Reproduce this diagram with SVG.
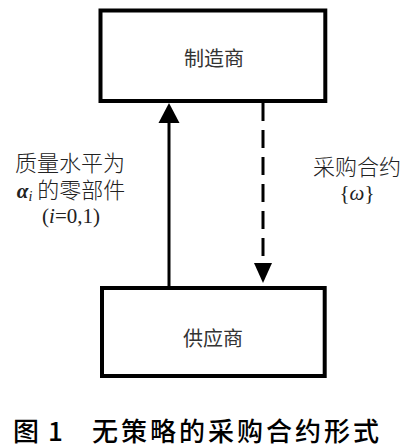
<svg xmlns="http://www.w3.org/2000/svg" width="407" height="447" viewBox="0 0 407 447">
<style>
.box{fill:#fff;stroke:#000;stroke-width:4;stroke-linejoin:miter}
.lbl{font-family:"Noto Sans CJK SC","Liberation Sans",sans-serif;font-size:20px;fill:#333;text-anchor:middle}
.side{font-family:"Liberation Serif","Noto Sans CJK SC",serif;font-size:21px;fill:#222;text-anchor:middle}
.cjk{font-family:"Noto Sans CJK SC",sans-serif;font-weight:300;font-size:22px}
.cap{font-family:"Noto Sans CJK SC","Liberation Sans",sans-serif;font-size:26px;font-weight:500;fill:#000}
.ln{stroke:#000;stroke-width:3;fill:none}
</style>
<rect width="407" height="447" fill="#fff"/>
<g id="manufacturer">
<rect class="box" x="100.5" y="10.5" width="224.8" height="90.5"/>
<text class="lbl" x="214" y="66">制造商</text>
</g>
<g id="supplier">
<rect class="box" x="102" y="288" width="222.7" height="88"/>
<text class="lbl" x="213" y="346">供应商</text>
</g>
<g id="connectors">
<line class="ln" x1="169" y1="286" x2="169" y2="118"/>
<polygon points="169,103 158.5,123 179.5,123" fill="#000"/>
<line class="ln" x1="263" y1="103" x2="263" y2="265" stroke-dasharray="18 9"/>
<polygon points="263,283 254,263 272,263" fill="#000"/>
</g>
<g id="label-left">
<text class="side" x="70" y="171"><tspan class="cjk">质量水平为</tspan></text>
<text class="side" x="71" y="198"><tspan font-weight="bold" font-style="italic">α</tspan><tspan font-style="italic" font-size="14" dy="3">i</tspan><tspan dy="-3" class="cjk"> 的零部件</tspan></text>
<text class="side" x="71" y="223">(<tspan font-style="italic">i</tspan>=0,1)</text>
</g>
<g id="label-right">
<text class="side" x="357" y="175"><tspan class="cjk">采购合约</tspan></text>
<text class="side" x="357" y="200">{<tspan font-style="italic">ω</tspan>}</text>
</g>
<g id="caption">
<text class="cap" x="13" y="441">图</text>
<text class="cap" x="48" y="441">1</text>
<text class="cap" x="92" y="441" letter-spacing="3">无策略的采购合约形式</text>
</g>
</svg>
